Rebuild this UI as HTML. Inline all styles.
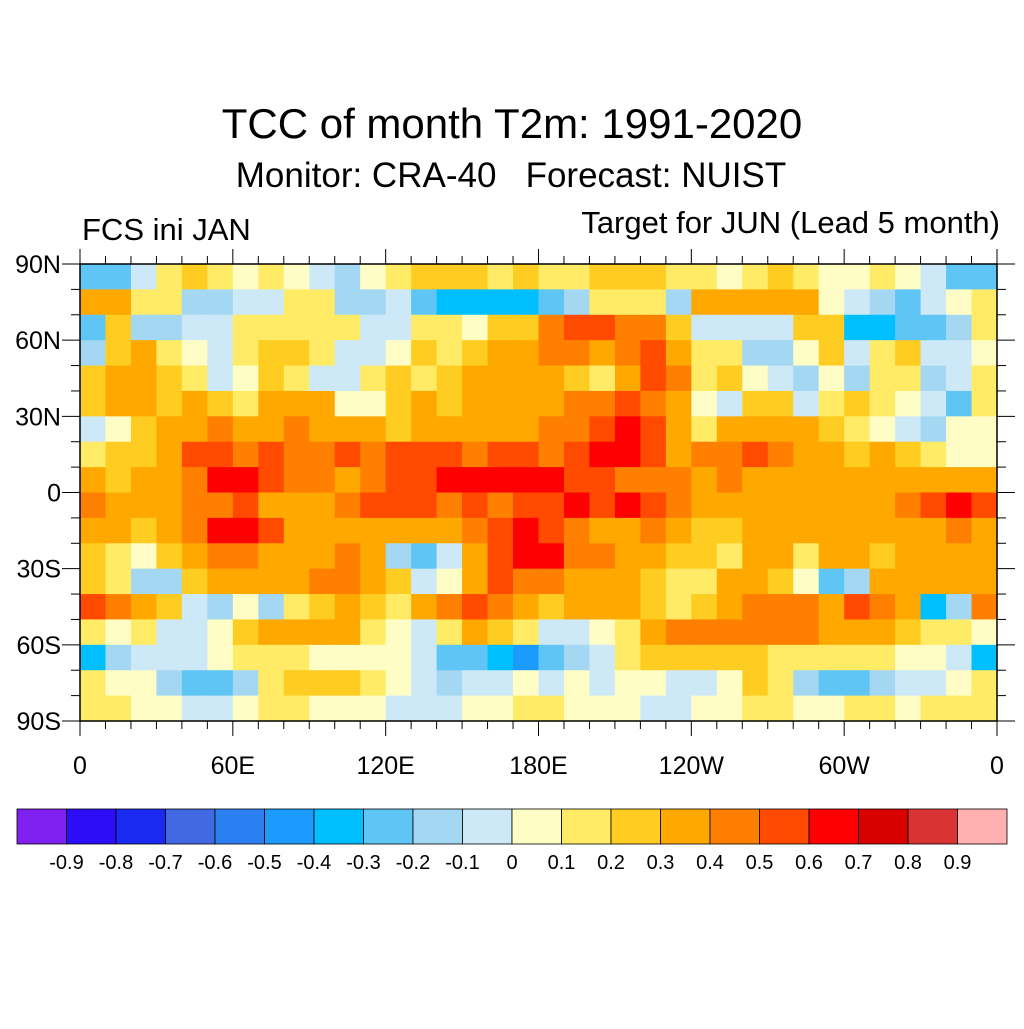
<!DOCTYPE html>
<html><head><meta charset="utf-8"><style>
body{margin:0;background:#fff;font-family:"Liberation Sans",sans-serif}
svg text{font-family:"Liberation Sans",sans-serif;fill:#000;white-space:pre}
</style></head><body>
<svg id="chart" width="1024" height="1024" xmlns="http://www.w3.org/2000/svg">
<rect width="1024" height="1024" fill="#fff"/>
<text x="512" y="138" font-size="42" text-anchor="middle">TCC of month T2m: 1991-2020</text>
<text x="511" y="187" font-size="35" text-anchor="middle" xml:space="preserve">Monitor: CRA-40   Forecast: NUIST</text>
<text x="82" y="240" font-size="31">FCS ini JAN</text>
<text x="1000" y="233" font-size="31" text-anchor="end">Target for JUN (Lead 5 month)</text>
<g id="map"></g>
<g id="axes"></g>
<g id="cbar"></g>
</svg>
<script>
const lons = [0,10,20,30,40,50,60,70,80,90,100,110,120,130,140,150,160,170,180,190,200,210,220,230,240,250,260,270,280,290,300,310,320,330,340,350];
const lats = [85,75,65,55,45,35,25,15,5,-5,-15,-25,-35,-45,-55,-65,-75,-85];
const row85 = [-0.3,-0.3,-0.1,0.1,0.2,0.1,0.05,0.1,0.05,-0.1,-0.2,0.05,0.1,0.2,0.2,0.2,0.1,0.2,0.1,0.1,0.2,0.2,0.2,0.1,0.1,0.05,0.1,0.2,0.1,0.05,0.05,0.1,0.05,-0.1,-0.3,-0.3];
const row75 = [0.35,0.3,0.15,0.1,-0.2,-0.2,-0.1,-0.1,0.1,0.1,-0.2,-0.2,-0.1,-0.3,-0.4,-0.4,-0.4,-0.35,-0.3,-0.2,0.1,0.1,0.1,-0.2,0.3,0.3,0.3,0.35,0.3,0.05,-0.1,-0.2,-0.3,-0.1,0.05,0.1];
const row65 = [-0.3,0.2,-0.2,-0.2,-0.1,-0.1,0.1,0.1,0.1,0.1,0.1,-0.1,-0.1,0.1,0.1,0.05,0.2,0.2,0.4,0.5,0.5,0.4,0.4,0.2,-0.1,-0.1,-0.1,-0.1,0.2,0.2,-0.4,-0.4,-0.3,-0.3,-0.2,0.1];
const row55 = [-0.2,0.2,0.3,0.1,0.05,-0.1,0.1,0.2,0.2,0.1,-0.1,-0.1,0.05,0.2,0.1,0.2,0.3,0.3,0.4,0.4,0.3,0.4,0.5,0.3,0.1,0.1,-0.2,-0.2,0.05,0.2,-0.1,0.1,0.2,-0.1,-0.1,0.05];
const row45 = [0.2,0.3,0.3,0.2,0.1,-0.1,0.05,0.2,0.1,-0.1,-0.1,0.1,0.2,0.1,0.2,0.3,0.3,0.3,0.3,0.2,0.1,0.3,0.5,0.4,0.1,0.2,0.05,-0.1,-0.2,0.05,-0.2,0.1,0.1,-0.2,-0.1,0.1];
const row35 = [0.2,0.3,0.3,0.2,0.3,0.2,0.1,0.3,0.3,0.3,0.05,0.05,0.2,0.3,0.2,0.3,0.3,0.3,0.3,0.4,0.4,0.5,0.4,0.3,0.05,-0.1,0.2,0.2,-0.1,0.1,0.2,0.1,0.05,-0.1,-0.3,0.1];
const row25 = [-0.1,0.05,0.2,0.3,0.3,0.4,0.3,0.3,0.4,0.3,0.3,0.3,0.2,0.3,0.3,0.3,0.3,0.3,0.4,0.4,0.5,0.6,0.5,0.3,0.1,0.3,0.3,0.3,0.3,0.2,0.1,0.05,-0.1,-0.2,0.05,0.05];
const row15 = [0.1,0.2,0.2,0.3,0.5,0.5,0.4,0.5,0.4,0.4,0.5,0.4,0.5,0.5,0.5,0.4,0.5,0.5,0.4,0.5,0.6,0.6,0.5,0.3,0.4,0.4,0.5,0.4,0.3,0.3,0.2,0.3,0.2,0.1,0.05,0.05];
const row5 = [0.3,0.2,0.3,0.3,0.4,0.6,0.6,0.5,0.4,0.4,0.3,0.4,0.5,0.5,0.6,0.6,0.6,0.6,0.6,0.5,0.5,0.4,0.4,0.4,0.3,0.4,0.3,0.3,0.3,0.3,0.3,0.3,0.3,0.3,0.3,0.3];
const rowS5 = [0.4,0.3,0.3,0.3,0.4,0.4,0.5,0.3,0.3,0.3,0.4,0.5,0.5,0.5,0.4,0.5,0.4,0.5,0.5,0.6,0.5,0.6,0.5,0.4,0.3,0.3,0.3,0.3,0.3,0.3,0.3,0.3,0.4,0.5,0.6,0.5];
const rowS15 = [0.3,0.3,0.2,0.3,0.4,0.6,0.6,0.5,0.3,0.3,0.3,0.3,0.3,0.3,0.3,0.4,0.5,0.6,0.5,0.4,0.3,0.3,0.4,0.3,0.2,0.2,0.3,0.3,0.3,0.3,0.3,0.3,0.3,0.3,0.4,0.3];
const rowS25 = [0.2,0.1,0.05,0.2,0.3,0.4,0.4,0.3,0.3,0.3,0.4,0.3,-0.2,-0.3,-0.1,0.3,0.5,0.6,0.6,0.4,0.4,0.3,0.3,0.2,0.2,0.1,0.3,0.3,0.1,0.3,0.3,0.2,0.3,0.3,0.3,0.3];
const rowS35 = [0.2,0.1,-0.2,-0.2,0.2,0.3,0.3,0.3,0.3,0.4,0.4,0.3,0.2,-0.1,0.05,0.3,0.5,0.4,0.4,0.3,0.3,0.3,0.2,0.1,0.1,0.3,0.3,0.2,0.05,-0.3,-0.2,0.3,0.3,0.3,0.3,0.3];
const rowS45 = [0.5,0.4,0.3,0.2,-0.1,-0.2,0.05,-0.2,0.1,0.2,0.3,0.2,0.1,0.3,0.4,0.5,0.4,0.3,0.2,0.3,0.3,0.3,0.2,0.1,0.2,0.3,0.4,0.4,0.4,0.3,0.5,0.4,0.3,-0.4,-0.2,0.4];
const rowS55 = [0.1,0.05,0.1,-0.1,-0.1,0.05,0.2,0.3,0.3,0.3,0.3,0.1,0.05,-0.1,0.1,0.3,0.2,0.1,-0.1,-0.1,0.05,0.1,0.3,0.4,0.4,0.4,0.4,0.4,0.4,0.3,0.3,0.3,0.2,0.1,0.1,0.05];
const rowS65 = [-0.4,-0.2,-0.1,-0.1,-0.1,0.05,0.1,0.1,0.1,0.05,0.05,0.05,0.05,-0.1,-0.3,-0.3,-0.4,-0.5,-0.3,-0.2,-0.1,0.1,0.2,0.2,0.2,0.2,0.2,0.1,0.1,0.1,0.1,0.1,0.05,0.05,-0.1,-0.4];
const rowS75 = [0.1,0.05,0.05,-0.2,-0.3,-0.3,-0.2,0.1,0.2,0.2,0.2,0.1,0.05,-0.1,-0.2,-0.1,-0.1,0.05,-0.1,0.05,-0.1,0.05,0.05,-0.1,-0.1,0.05,0.2,0.1,-0.2,-0.3,-0.3,-0.2,-0.1,-0.1,0.05,0.1];
const rowS85 = [0.1,0.1,0.05,0.05,-0.1,-0.1,0.05,0.1,0.1,0.05,0.05,0.05,-0.1,-0.1,-0.1,0.05,0.05,0.1,0.1,0.05,0.05,0.05,-0.1,-0.1,0.05,0.05,0.1,0.1,0.05,0.05,0.1,0.1,0.05,0.1,0.1,0.1];
const grid = [row85,row75,row65,row55,row45,row35,row25,row15,row5,rowS5,rowS15,rowS25,rowS35,rowS45,rowS55,rowS65,rowS75,rowS85];
const levels = [-0.9,-0.8,-0.7,-0.6,-0.5,-0.4,-0.3,-0.2,-0.1,0,0.1,0.2,0.3,0.4,0.5,0.6,0.7,0.8,0.9];
const colors = ["#7f1ff0","#2d0cf8","#1a2af0","#4169e1","#2a80f0","#1c9bff","#00bfff","#5fc5f5","#a3d7f2","#cde9f8","#fffdc6","#ffeb66","#ffcc22","#ffa800","#ff7f00","#ff4a00","#ff0000","#d90000","#d93333","#ffb0b0"];
const xTicks = [0,60,120,180,240,300,360];
const xLabels = ["0","60E","120E","180E","120W","60W","0"];
const yTicks = [90,60,30,0,-30,-60,-90];
const yLabels = ["90N","60N","30N","0","30S","60S","90S"];

const NS="http://www.w3.org/2000/svg";
const L=80,R=997,T=264,B=721;
const xS=lon=>L+lon/360*(R-L);
const yS=lat=>T+(90-lat)/180*(B-T);
function colorOf(v){let i=0;while(i<levels.length&&v>=levels[i]-1e-9)i++;return colors[i];}
function mk(tag,attrs,parent){const e=document.createElementNS(NS,tag);for(const k in attrs)e.setAttribute(k,attrs[k]);parent.appendChild(e);return e;}
const map=document.getElementById('map');
grid.forEach((row,r)=>row.forEach((v,c)=>{
  const x0=xS(lons[c]),x1=xS(lons[c]+10),y0=yS(lats[r]+5),y1=yS(lats[r]-5);
  const e=mk('rect',{x:x0,y:y0,width:x1-x0+0.6,height:y1-y0+0.6,fill:colorOf(v)},map);
  
  
}));
const ax=document.getElementById('axes');
mk('rect',{x:L,y:T,width:R-L,height:B-T,fill:'none',stroke:'#000','stroke-width':1.5},ax);
for(let lat=-90;lat<=90;lat+=10){const y=yS(lat);const major=lat%30===0;
  mk('line',{x1:L-(major?18:9),x2:L,y1:y,y2:y,stroke:'#000','stroke-width':1},ax);
  mk('line',{x1:R,x2:R+(major?18:9),y1:y,y2:y,stroke:'#000','stroke-width':1},ax);}
for(let lon=0;lon<=360;lon+=10){const x=xS(lon);const major=lon%60===0;
  mk('line',{x1:x,x2:x,y1:B,y2:B+(major?15:8),stroke:'#000','stroke-width':1},ax);
  mk('line',{x1:x,x2:x,y1:T-(major?15:8),y2:T,stroke:'#000','stroke-width':1},ax);}
yTicks.forEach((lat,i)=>{const t=mk('text',{x:61,y:yS(lat)+9,'font-size':25,'text-anchor':'end'},ax);t.textContent=yLabels[i];
  
  });
xTicks.forEach((lon,i)=>{const t=mk('text',{x:xS(lon),y:774,'font-size':25,'text-anchor':'middle'},ax);t.textContent=xLabels[i];
  
  });
const cb=document.getElementById('cbar');
const cbL=17,cbR=1007,w=(cbR-cbL)/colors.length;
colors.forEach((c,i)=>{const e=mk('rect',{x:cbL+i*w,y:809,width:w,height:35,fill:c,stroke:'#000','stroke-width':0.8},cb);
  
  });
levels.forEach((lv,i)=>{const t=mk('text',{x:cbL+(i+1)*w,y:869,'font-size':20,'text-anchor':'middle'},cb);t.textContent=String(lv);
  
  });
</script>
</body></html>
